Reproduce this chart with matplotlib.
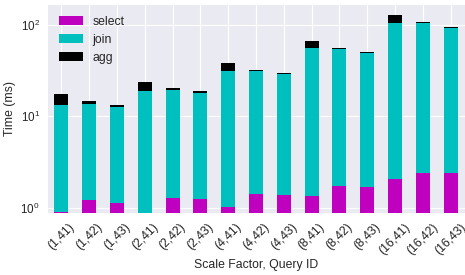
import matplotlib
matplotlib.use('Agg')
import matplotlib.pyplot as plt
import pandas as pd
import numpy as np

# query runs: (scale factor, query id)
labels = ['(1,41)', '(1,42)', '(1,43)', '(2,41)', '(2,42)', '(2,43)',
          '(4,41)', '(4,42)', '(4,43)', '(8,41)', '(8,42)', '(8,43)',
          '(16,41)', '(16,42)', '(16,43)']

# time per phase in ms
select_ms = [0.90, 1.21, 1.12, 0.80, 1.28, 1.24, 1.02, 1.41, 1.38,
             1.34, 1.73, 1.69, 2.06, 2.40, 2.40]
join_ms = [12.4, 12.4, 11.5, 18.1, 18.1, 16.8, 30.3, 29.9, 27.2,
           54.7, 52.9, 47.6, 103.0, 102.6, 90.3]
agg_ms = [4.1, 1.1, 0.65, 4.9, 1.0, 0.9, 7.1, 0.8, 0.75,
          10.8, 1.4, 1.3, 23.0, 3.0, 2.3]

plt.style.use('seaborn-v0_8')
plt.rcParams['font.family'] = ['Liberation Sans', 'DejaVu Sans']
plt.rcParams['mathtext.fontset'] = 'custom'
plt.rcParams['mathtext.rm'] = 'Liberation Sans'
plt.rcParams['mathtext.it'] = 'Liberation Sans:italic'

df = pd.DataFrame({'select': select_ms, 'join': join_ms, 'agg': agg_ms}, index=labels)

fig = plt.figure(figsize=(465 / 80, 275 / 80), dpi=80)
ax = fig.add_axes([47.5 / 465, 1 - 213 / 275, 417 / 465, (213 - 4.7) / 275])
df.plot(kind='bar', stacked=True, logy=True, rot=45, ax=ax,
        color=['#bf00bf', '#00bfbf', 'black'], width=0.5)

ax.set_ylim(0.875, 165)
ax.set_xlim(-0.5, 14.5)
ax.set_ylabel('Time (ms)', fontsize=11)
ax.set_xlabel('Scale Factor, Query ID', fontsize=11, labelpad=2)
ax.tick_params(axis='x', labelsize=11)
ax.tick_params(axis='y', labelsize=10.5)
ax.legend(loc='upper left', fontsize=11, frameon=False)

fig.savefig('out.png', dpi=80)
